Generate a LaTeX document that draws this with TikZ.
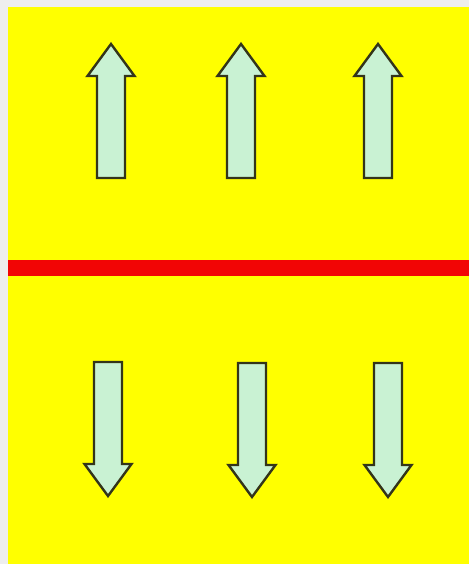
\documentclass[tikz,border=0pt]{standalone}
\usepackage{xcolor}
\usepackage{tikz}
\usetikzlibrary{positioning}
\definecolor{frameGray}{HTML}{EEEEEE}
\definecolor{paneYellow}{HTML}{FFFF00}
\definecolor{lineRed}{HTML}{F20505}
\definecolor{arrowEdge}{HTML}{33351A}
\definecolor{arrowFill}{HTML}{C9F2D3}
\tikzset{
  frame/.style={fill=frameGray, draw=none},
  pane/.style={fill=paneYellow, draw=none},
  divider/.style={draw=lineRed, line width=16pt},
  fieldarrow/.style={draw=arrowEdge, fill=arrowFill, line width=2.4pt, line join=miter},
  pics/blockarrow/.style={code={
    \draw[fieldarrow] (-14,0) -- (-14,102) -- (-23.5,102) -- (0,134)
          -- (23.5,102) -- (14,102) -- (14,0) -- cycle;}}
}

\begin{document}
\begin{tikzpicture}[x=1pt, y=1pt]
\useasboundingbox (0,0) rectangle (469,564);
\fill[frame] (0,0) rectangle (469,564);
\fill[pane] (8,0) rectangle (469,557);

% boundary
\coordinate (divL) at (8,296);
\coordinate (divR) at (469,296);
\draw[divider] (divL) -- (divR);

% upper half, pointing up
\pic (upA) at (111,386) {blockarrow};
\pic (upB) at (241,386) {blockarrow};
\pic (upC) at (378,386) {blockarrow};

% lower half, pointing down
\pic[rotate=180] (dnA) at (108,202) {blockarrow};
\pic[rotate=180] (dnB) at (252,201) {blockarrow};
\pic[rotate=180] (dnC) at (388,201) {blockarrow};
\end{tikzpicture}
\end{document}
